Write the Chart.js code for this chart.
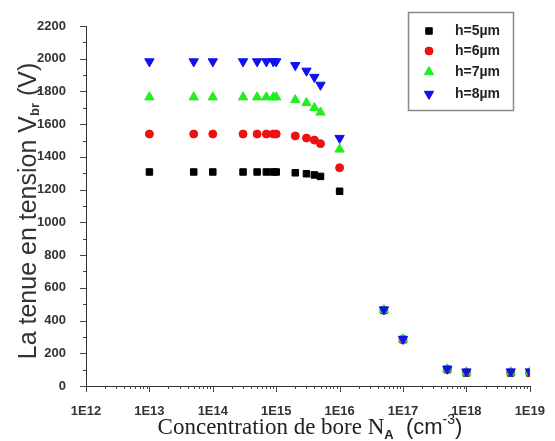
<!DOCTYPE html>
<html>
<head>
<meta charset="utf-8">
<script src="https://cdn.jsdelivr.net/npm/chart.js@4/dist/chart.umd.min.js"></script>
<style>
  html, body { margin: 0; padding: 0; background: #fff; }
  #wrap { width: 555px; height: 441px; }
</style>
</head>
<body>
<div id="wrap"><canvas id="grafico"></canvas></div>
<script>
// Concentrations (cm-3), same for every series
const concentrations = [1e13, 5e13, 1e14, 3e14, 5e14, 7e14, 9e14, 1e15, 2e15, 3e15, 4e15, 5e15, 1e16, 5e16, 1e17, 5e17, 1e18, 5e18, 1e19];

// Breakdown voltage Vbr (V) per thickness h
const vbrH5 = [1308, 1308, 1308, 1308, 1308, 1308, 1308, 1308, 1303, 1297, 1290, 1281, 1190, 462, 283, 100, 80, 80, 80];
const vbrH6 = [1540, 1540, 1540, 1540, 1540, 1540, 1540, 1540, 1528, 1515, 1503, 1481, 1334, 464, 285, 102, 83, 83, 83];
const vbrH7 = [1765, 1765, 1765, 1765, 1765, 1765, 1765, 1765, 1748, 1730, 1700, 1672, 1446, 465, 286, 103, 85, 85, 85];
const vbrH8 = [1983, 1983, 1983, 1983, 1983, 1983, 1983, 1983, 1960, 1926, 1888, 1840, 1515, 467, 287, 105, 88, 88, 88];

const seriesLabels = ['h=5µm', 'h=6µm', 'h=7µm', 'h=8µm'];
const xTickValues = [1e12, 1e13, 1e14, 1e15, 1e16, 1e17, 1e18, 1e19];
const xTickLabels = ['1E12', '1E13', '1E14', '1E15', '1E16', '1E17', '1E18', '1E19'];
const yTickValues = [0, 200, 400, 600, 800, 1000, 1200, 1400, 1600, 1800, 2000, 2200];

const estilos = [
  { cor: '#000000', ponto: 'rect', raio: 4.6, rot: 0 },
  { cor: '#ee1111', ponto: 'circle', raio: 4, rot: 0 },
  { cor: '#22ee22', ponto: 'triangle', raio: 5.4, rot: 0 },
  { cor: '#1111ee', ponto: 'triangle', raio: 5.4, rot: 180 }
];

function montaPontos(valores) {
  return concentrations.map((c, i) => ({ x: c, y: valores[i] }));
}

const todasSeries = [vbrH5, vbrH6, vbrH7, vbrH8];

// Desenha marcas dos eixos, legenda e títulos
const extras = {
  id: 'extras',
  afterDraw(chart) {
    const ctx = chart.ctx;
    const xs = chart.scales.x;
    const ys = chart.scales.y;
    const area = chart.chartArea;
    ctx.save();
    ctx.strokeStyle = '#444';
    ctx.lineWidth = 1;

    // marcas do eixo x (log)
    ctx.beginPath();
    for (let e = 12; e <= 19; e++) {
      for (let m = 1; m <= 9; m++) {
        const v = m * Math.pow(10, e);
        if (v > 1e19) break;
        const px = Math.round(xs.getPixelForValue(v)) + 0.5;
        const len = m === 1 ? 6 : 3;
        ctx.moveTo(px, area.bottom);
        ctx.lineTo(px, area.bottom + len);
      }
    }
    // marcas do eixo y
    for (let v = 0; v <= 2200; v += 100) {
      const py = Math.round(ys.getPixelForValue(v)) + 0.5;
      const len = v % 200 === 0 ? 6 : 3;
      ctx.moveTo(area.left, py);
      ctx.lineTo(area.left - len, py);
    }
    ctx.stroke();

    // legenda
    ctx.strokeStyle = '#888';
    ctx.lineWidth = 1.5;
    ctx.strokeRect(408.5, 12.5, 105, 98);
    const ys_leg = [31, 51, 72, 94];
    estilos.forEach((s, i) => {
      ctx.fillStyle = s.cor;
      ctx.strokeStyle = s.cor;
      ctx.lineWidth = 1;
      Chart.helpers.drawPoint(ctx, { pointStyle: s.ponto, radius: s.raio, rotation: s.rot, borderWidth: 1 }, 429, ys_leg[i]);
      ctx.fillStyle = '#222';
      ctx.font = 'bold 14px "Liberation Sans", Arial, sans-serif';
      ctx.textBaseline = 'middle';
      ctx.textAlign = 'left';
      ctx.fillText(seriesLabels[i], 455, ys_leg[i]);
    });

    // título do eixo y (rotacionado)
    ctx.fillStyle = '#333';
    ctx.textBaseline = 'alphabetic';
    ctx.translate(36, 211);
    ctx.rotate(-Math.PI / 2);
    const partesY = [
      { t: 'La tenue en tension V', f: '25px "Liberation Sans", Arial, sans-serif', dy: 0 },
      { t: 'br', f: 'bold 13px "Liberation Sans", Arial, sans-serif', dy: 3 },
      { t: ' (V)', f: '25px "Liberation Sans", Arial, sans-serif', dy: 0 }
    ];
    escreveTexto(ctx, partesY, 0, 0);
    ctx.setTransform(1, 0, 0, 1, 0, 0);

    // título do eixo x
    ctx.fillStyle = '#222';
    const partesX = [
      { t: 'Concentration de bore N', f: '23px "Liberation Serif", "Times New Roman", serif', dy: 0 },
      { t: 'A', f: 'bold 13px "Liberation Sans", Arial, sans-serif', dy: 5 },
      { t: '  (cm', f: '22px "Liberation Sans", Arial, sans-serif', dy: 0 },
      { t: '-3', f: '14px "Liberation Sans", Arial, sans-serif', dy: -10 },
      { t: ')', f: '22px "Liberation Sans", Arial, sans-serif', dy: 0 }
    ];
    escreveTexto(ctx, partesX, 310, 434);
    ctx.restore();
  }
};

function escreveTexto(ctx, partes, cx, base) {
  let total = 0;
  partes.forEach(p => { ctx.font = p.f; total += ctx.measureText(p.t).width; });
  let x = cx - total / 2;
  ctx.textAlign = 'left';
  partes.forEach(p => {
    ctx.font = p.f;
    ctx.fillText(p.t, x, base + p.dy);
    x += ctx.measureText(p.t).width;
  });
}

const ctx = document.getElementById('grafico').getContext('2d');
new Chart(ctx, {
  type: 'scatter',
  data: {
    datasets: todasSeries.map((valores, i) => ({
      label: seriesLabels[i],
      data: montaPontos(valores),
      pointStyle: estilos[i].ponto,
      pointRadius: estilos[i].raio,
      pointRotation: estilos[i].rot,
      backgroundColor: estilos[i].cor,
      borderColor: estilos[i].cor,
      borderWidth: 1,
      order: 4 - i
    }))
  },
  options: {
    responsive: true,
    maintainAspectRatio: false,
    animation: false,
    events: [],
    layout: { padding: { left: 0, top: 26, right: 24, bottom: 0 } },
    plugins: {
      legend: { display: false },
      tooltip: { enabled: false }
    },
    scales: {
      x: {
        type: 'logarithmic',
        min: 1e12,
        max: 1e19,
        afterFit: s => { s.height = 55; },
        afterBuildTicks: s => { s.ticks = xTickValues.map(v => ({ value: v })); },
        grid: { display: false },
        border: { display: true, color: '#333', width: 1 },
        ticks: {
          autoSkip: false,
          maxRotation: 0,
          padding: 10,
          color: '#333',
          font: { family: '"Liberation Sans", Arial, sans-serif', size: 13, weight: 'bold' },
          callback: v => {
            const i = xTickValues.indexOf(v);
            return i >= 0 ? xTickLabels[i] : '';
          }
        }
      },
      y: {
        min: 0,
        max: 2200,
        afterFit: s => { s.width = 86; },
        afterBuildTicks: s => { s.ticks = yTickValues.map(v => ({ value: v })); },
        grid: { display: false },
        border: { display: true, color: '#333', width: 1 },
        ticks: {
          padding: 12,
          color: '#333',
          font: { family: '"Liberation Sans", Arial, sans-serif', size: 13, weight: 'bold' },
          callback: v => String(v)
        }
      }
    }
  },
  plugins: [extras]
});
</script>
</body>
</html>
